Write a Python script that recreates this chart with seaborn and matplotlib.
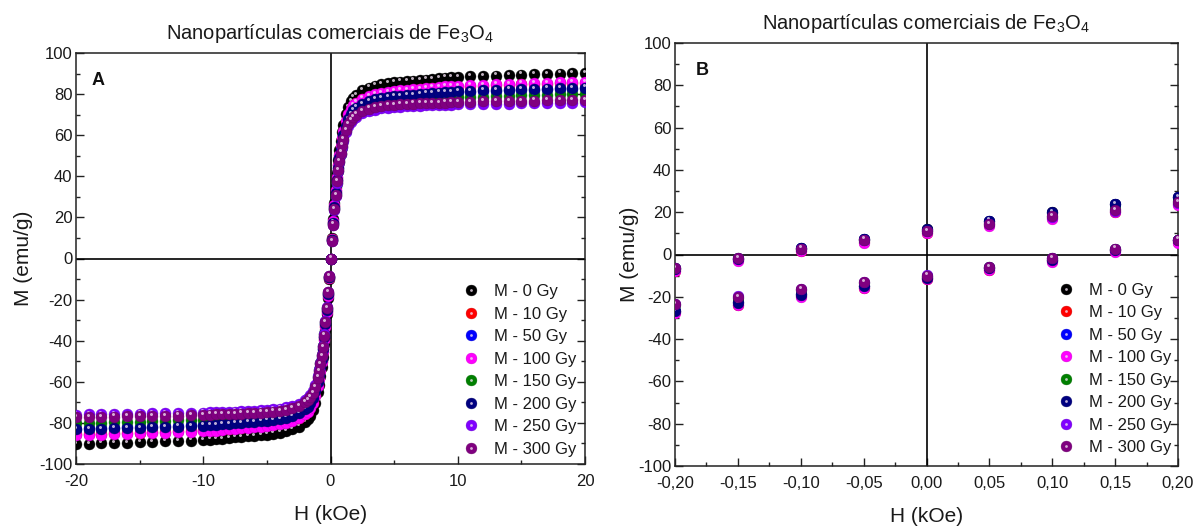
import matplotlib
matplotlib.use('Agg')
import matplotlib.pyplot as plt
import matplotlib.colors as mcolors
import seaborn as sns
from matplotlib.lines import Line2D
from matplotlib.legend_handler import HandlerTuple
from matplotlib.ticker import MultipleLocator, FuncFormatter
from matplotlib.transforms import ScaledTranslation

sns.set_style('ticks')
plt.rcParams['font.family'] = ['Liberation Sans', 'DejaVu Sans']
plt.rcParams['axes.unicode_minus'] = False
plt.rcParams['mathtext.fontset'] = 'custom'
plt.rcParams['mathtext.rm'] = 'Liberation Sans'
plt.rcParams['mathtext.it'] = 'Liberation Sans:italic'
plt.rcParams['mathtext.bf'] = 'Liberation Sans:bold'

labels = ['M - 0 Gy', 'M - 10 Gy', 'M - 50 Gy', 'M - 100 Gy',
          'M - 150 Gy', 'M - 200 Gy', 'M - 250 Gy', 'M - 300 Gy']
colors = ['#000000', '#ff0000', '#0000ff', '#ff00ff',
          '#008000', '#000080', '#8000ff', '#800080']

# panel A: full loop, H in kOe
h_a = [-20, -19, -18, -17, -16, -15, -14, -13, -12, -11,
       -10, -9.5, -9, -8.5, -8, -7.5, -7, -6.5, -6, -5.5,
       -5, -4.5, -4, -3.5, -3, -2.5, -2, -1.8, -1.6, -1.4, -1.2,
       -1.0, -0.9, -0.8, -0.7, -0.6, -0.5, -0.4, -0.3, -0.2, -0.1,
       0,
       0.1, 0.2, 0.3, 0.4, 0.5, 0.6, 0.7, 0.8, 0.9, 1.0,
       1.2, 1.4, 1.6, 1.8, 2, 2.5, 3, 3.5, 4, 4.5, 5,
       5.5, 6, 6.5, 7, 7.5, 8, 8.5, 9, 9.5, 10,
       11, 12, 13, 14, 15, 16, 17, 18, 19, 20]

m_0gy = [-90.4, -90.2, -90.0, -89.9, -89.7, -89.5, -89.3, -89.0, -88.9, -88.6,
         -88.3, -88.1, -88.0, -87.7, -87.4, -87.1, -86.9, -86.6, -86.3, -86.1,
         -85.7, -85.2, -84.7, -84.1, -83.2, -81.8, -79.7, -78.3, -76.4, -73.7, -70.1,
         -65.1, -61.5, -57.4, -52.9, -47.9, -41.6, -34.8, -27.1, -19.0, -9.9,
         0.0,
         9.9, 19.0, 27.1, 34.8, 41.6, 47.9, 52.9, 57.4, 61.5, 65.1,
         70.1, 73.7, 76.4, 78.3, 79.7, 81.8, 83.2, 84.1, 84.7, 85.2, 85.7,
         86.1, 86.3, 86.6, 86.9, 87.1, 87.4, 87.7, 88.0, 88.1, 88.3,
         88.6, 88.9, 89.0, 89.3, 89.5, 89.7, 89.9, 90.0, 90.2, 90.4]
m_10gy = [-85.6, -85.4, -85.3, -85.1, -84.9, -84.7, -84.6, -84.3, -84.1, -83.9,
          -83.6, -83.5, -83.3, -83.0, -82.8, -82.5, -82.3, -82.0, -81.7, -81.5,
          -81.1, -80.7, -80.2, -79.6, -78.8, -77.5, -75.5, -74.1, -72.3, -69.8, -66.3,
          -61.6, -58.2, -54.4, -50.1, -45.4, -39.4, -33.0, -25.7, -18.0, -9.4,
          0.0,
          9.4, 18.0, 25.7, 33.0, 39.4, 45.4, 50.1, 54.4, 58.2, 61.6,
          66.3, 69.8, 72.3, 74.1, 75.5, 77.5, 78.8, 79.6, 80.2, 80.7, 81.1,
          81.5, 81.7, 82.0, 82.3, 82.5, 82.8, 83.0, 83.3, 83.5, 83.6,
          83.9, 84.1, 84.3, 84.6, 84.7, 84.9, 85.1, 85.3, 85.4, 85.6]
m_50gy = [-82.8, -82.6, -82.5, -82.3, -82.1, -82.0, -81.8, -81.6, -81.4, -81.1,
          -80.9, -80.7, -80.6, -80.3, -80.1, -79.8, -79.6, -79.3, -79.1, -78.8,
          -78.5, -78.1, -77.6, -77.0, -76.2, -74.9, -73.0, -71.7, -70.0, -67.5, -64.2,
          -59.6, -56.3, -52.6, -48.4, -43.9, -38.1, -31.9, -24.8, -17.4, -9.1,
          0.0,
          9.1, 17.4, 24.8, 31.9, 38.1, 43.9, 48.4, 52.6, 56.3, 59.6,
          64.2, 67.5, 70.0, 71.7, 73.0, 74.9, 76.2, 77.0, 77.6, 78.1, 78.5,
          78.8, 79.1, 79.3, 79.6, 79.8, 80.1, 80.3, 80.6, 80.7, 80.9,
          81.1, 81.4, 81.6, 81.8, 82.0, 82.1, 82.3, 82.5, 82.6, 82.8]
m_100gy = [-86.0, -85.8, -85.7, -85.5, -85.3, -85.1, -85.0, -84.7, -84.5, -84.3,
           -84.0, -83.9, -83.7, -83.4, -83.2, -82.9, -82.6, -82.4, -82.1, -81.9,
           -81.5, -81.1, -80.6, -80.0, -79.1, -77.8, -75.9, -74.5, -72.7, -70.1, -66.7,
           -61.9, -58.5, -54.6, -50.3, -45.6, -39.6, -33.1, -25.8, -18.1, -9.5,
           0.0,
           9.5, 18.1, 25.8, 33.1, 39.6, 45.6, 50.3, 54.6, 58.5, 61.9,
           66.7, 70.1, 72.7, 74.5, 75.9, 77.8, 79.1, 80.0, 80.6, 81.1, 81.5,
           81.9, 82.1, 82.4, 82.6, 82.9, 83.2, 83.4, 83.7, 83.9, 84.0,
           84.3, 84.5, 84.7, 85.0, 85.1, 85.3, 85.5, 85.7, 85.8, 86.0]
m_150gy = [-80.2, -80.0, -79.9, -79.7, -79.6, -79.4, -79.2, -79.0, -78.8, -78.6,
           -78.4, -78.2, -78.0, -77.8, -77.6, -77.3, -77.1, -76.8, -76.6, -76.4,
           -76.0, -75.6, -75.1, -74.6, -73.8, -72.6, -70.7, -69.5, -67.8, -65.4, -62.2,
           -57.7, -54.5, -50.9, -46.9, -42.5, -36.9, -30.9, -24.1, -16.8, -8.8,
           0.0,
           8.8, 16.8, 24.1, 30.9, 36.9, 42.5, 46.9, 50.9, 54.5, 57.7,
           62.2, 65.4, 67.8, 69.5, 70.7, 72.6, 73.8, 74.6, 75.1, 75.6, 76.0,
           76.4, 76.6, 76.8, 77.1, 77.3, 77.6, 77.8, 78.0, 78.2, 78.4,
           78.6, 78.8, 79.0, 79.2, 79.4, 79.6, 79.7, 79.9, 80.0, 80.2]
m_200gy = [-83.2, -83.0, -82.9, -82.7, -82.5, -82.4, -82.2, -82.0, -81.8, -81.5,
           -81.3, -81.1, -81.0, -80.7, -80.5, -80.2, -80.0, -79.7, -79.5, -79.2,
           -78.9, -78.5, -78.0, -77.4, -76.5, -75.3, -73.4, -72.1, -70.3, -67.8, -64.5,
           -59.9, -56.6, -52.8, -48.7, -44.1, -38.3, -32.0, -25.0, -17.5, -9.2,
           0.0,
           9.2, 17.5, 25.0, 32.0, 38.3, 44.1, 48.7, 52.8, 56.6, 59.9,
           64.5, 67.8, 70.3, 72.1, 73.4, 75.3, 76.5, 77.4, 78.0, 78.5, 78.9,
           79.2, 79.5, 79.7, 80.0, 80.2, 80.5, 80.7, 81.0, 81.1, 81.3,
           81.5, 81.8, 82.0, 82.2, 82.4, 82.5, 82.7, 82.9, 83.0, 83.2]
m_250gy = [-76.0, -75.9, -75.8, -75.7, -75.6, -75.5, -75.4, -75.4, -75.3, -75.1,
           -75.0, -74.9, -74.8, -74.7, -74.6, -74.5, -74.4, -74.3, -74.1, -73.9,
           -73.7, -73.4, -73.0, -72.5, -71.8, -70.7, -69.0, -68.0, -66.5, -64.5, -61.6,
           -57.1, -54.2, -50.7, -46.8, -42.4, -36.9, -30.5, -23.6, -16.3, -8.4,
           0.0,
           8.4, 16.3, 23.6, 30.5, 36.9, 42.4, 46.8, 50.7, 54.2, 57.1,
           61.6, 64.5, 66.5, 68.0, 69.0, 70.7, 71.8, 72.5, 73.0, 73.4, 73.7,
           73.9, 74.1, 74.3, 74.4, 74.5, 74.6, 74.7, 74.8, 74.9, 75.0,
           75.1, 75.3, 75.4, 75.4, 75.5, 75.6, 75.7, 75.8, 75.9, 76.0]
m_300gy = [-77.2, -77.1, -77.0, -76.9, -76.8, -76.7, -76.6, -76.5, -76.4, -76.2,
           -76.1, -76.0, -75.9, -75.8, -75.7, -75.6, -75.5, -75.4, -75.2, -75.0,
           -74.8, -74.5, -74.1, -73.6, -72.9, -71.8, -70.0, -69.0, -67.5, -65.5, -62.5,
           -58.0, -55.0, -51.5, -47.5, -43.0, -37.5, -31.0, -24.0, -16.5, -8.5,
           0.0,
           8.5, 16.5, 24.0, 31.0, 37.5, 43.0, 47.5, 51.5, 55.0, 58.0,
           62.5, 65.5, 67.5, 69.0, 70.0, 71.8, 72.9, 73.6, 74.1, 74.5, 74.8,
           75.0, 75.2, 75.4, 75.5, 75.6, 75.7, 75.8, 75.9, 76.0, 76.1,
           76.2, 76.4, 76.5, 76.6, 76.7, 76.8, 76.9, 77.0, 77.1, 77.2]

# panel B: zoom of the loop near H = 0, both branches
h_b = [-0.20, -0.15, -0.10, -0.05, 0.00, 0.05, 0.10, 0.15, 0.20]
up_0gy = [-6.8, -2.2, 3.0, 7.5, 12.0, 16.0, 20.0, 24.0, 27.1]
lo_0gy = [-26.6, -22.6, -18.9, -14.9, -11.0, -6.5, -2.5, 2.2, 7.0]
up_10gy = [-7.8, -2.8, 1.8, 5.8, 10.2, 13.8, 17.2, 20.3, 23.8]
lo_10gy = [-27.3, -23.8, -19.8, -15.8, -11.6, -7.3, -3.3, 1.5, 5.8]
up_50gy = [-6.6, -2.0, 3.0, 7.4, 11.8, 15.8, 19.8, 23.8, 27.0]
lo_50gy = [-26.6, -22.6, -18.8, -14.8, -10.8, -6.4, -2.4, 2.3, 7.0]
up_100gy = [-8.0, -3.0, 1.6, 5.5, 10.0, 13.5, 17.0, 20.0, 23.5]
lo_100gy = [-27.5, -24.0, -20.0, -16.0, -11.8, -7.5, -3.5, 1.3, 5.5]
up_150gy = [-6.4, -1.8, 2.8, 7.0, 11.2, 14.8, 18.4, 21.6, 25.2]
lo_150gy = [-24.0, -20.4, -16.9, -13.3, -10.2, -6.0, -1.8, 2.6, 7.0]
up_200gy = [-6.8, -2.2, 3.0, 7.5, 12.0, 16.0, 20.0, 24.0, 27.2]
lo_200gy = [-26.8, -22.8, -19.0, -15.0, -11.0, -6.5, -2.5, 2.2, 7.0]
up_250gy = [-6.2, -1.6, 2.8, 7.0, 10.9, 14.4, 17.8, 20.8, 24.4]
lo_250gy = [-23.4, -19.8, -16.4, -12.9, -9.9, -5.7, -1.6, 2.8, 6.9]
up_300gy = [-6.3, -1.6, 2.8, 7.0, 11.0, 14.5, 18.0, 21.0, 24.7]
lo_300gy = [-23.6, -20.0, -16.5, -13.0, -10.0, -5.8, -1.6, 2.8, 7.0]

series_a = [m_0gy, m_10gy, m_50gy, m_100gy, m_150gy, m_200gy, m_250gy, m_300gy]
series_b = [(up_0gy, lo_0gy), (up_10gy, lo_10gy), (up_50gy, lo_50gy),
            (up_100gy, lo_100gy), (up_150gy, lo_150gy), (up_200gy, lo_200gy),
            (up_250gy, lo_250gy), (up_300gy, lo_300gy)]

title = r'Nanopartículas comerciais de Fe$_\mathregular{3}$O$_\mathregular{4}$'

W, H = 1203, 530
fig = plt.figure(figsize=(W / 100, H / 100), dpi=100)
ax_a = fig.add_axes([76 / W, 66 / H, 509 / W, 411 / H])
ax_b = fig.add_axes([675 / W, 64 / H, 503 / W, 423 / H])

HILITE = '#eedcee'


def shade(c, f):
    r, g, b = mcolors.to_rgb(c)
    return (r * f, g * f, b * f)


def balls(ax, x, y, color, size):
    # coloured ball with a small light highlight shifted up-left
    sns.scatterplot(x=x, y=y, ax=ax, color=color, s=size, edgecolor=shade(color, 0.8),
                    linewidth=0.3, legend=False, zorder=3)
    sns.scatterplot(x=x, y=y, ax=ax, color=HILITE, s=size * 0.075, alpha=0.8,
                    linewidth=0, legend=False, zorder=3)
    shift = ScaledTranslation(-1.0 / 100, 2.2 / 100, fig.dpi_scale_trans)
    ax.collections[-1].set_offset_transform(ax.transData + shift)


for m, c in zip(series_a, colors):
    balls(ax_a, h_a, m, c, 62)

for (up, lo), c in zip(series_b, colors):
    balls(ax_b, h_b, up, c, 60)
    balls(ax_b, h_b, lo, c, 60)


def style(ax, xlim, xmaj, xmin, tag, tag_xy, label_x, xlab_y):
    ax.set_xlim(*xlim)
    ax.set_ylim(-100, 100)
    ax.axhline(0, color='black', lw=1.2, zorder=1)
    ax.axvline(0, color='black', lw=1.2, zorder=1)
    ax.xaxis.set_major_locator(MultipleLocator(xmaj))
    ax.xaxis.set_minor_locator(MultipleLocator(xmin))
    ax.yaxis.set_major_locator(MultipleLocator(20))
    ax.yaxis.set_minor_locator(MultipleLocator(10))
    ax.tick_params(which='both', direction='in', top=False, right=True,
                   width=1.0, color='#222222', labelcolor='#1a1a1a', labelsize=12)
    ax.tick_params(which='major', length=6)
    ax.tick_params(which='minor', length=3.2)
    ax.tick_params(axis='x', which='major', pad=7.5)
    ax.tick_params(axis='y', which='major', pad=2.5)
    for sp in ax.spines.values():
        sp.set_linewidth(1.1)
        sp.set_color('#222222')
    ax.set_title(title, fontsize=14.5, pad=10, color='#1a1a1a')
    ax.set_xlabel('H (kOe)', fontsize=15, color='#1a1a1a')
    ax.set_ylabel('M (emu/g)', fontsize=15, color='#1a1a1a')
    ax.xaxis.set_label_coords(0.5, xlab_y)
    ax.yaxis.set_label_coords(label_x, 0.5)
    ax.text(tag_xy[0], tag_xy[1], tag, transform=ax.transAxes, fontsize=13,
            fontweight='bold', ha='center', va='center', color='#111111')


style(ax_a, (-20, 20), 10, 5, 'A', (0.044, 0.934), -0.085, -0.099)
style(ax_b, (-0.2, 0.2), 0.05, 0.025, 'B', (0.055, 0.936), -0.072, -0.096)


def comma(v, pos):
    v = round(v, 4)
    if v == 0:
        v = 0.0
    return f'{v:.2f}'.replace('.', ',')


ax_b.xaxis.set_major_formatter(FuncFormatter(comma))

handles = [(Line2D([], [], ls='', marker='o', ms=7.8, mfc=c, mec=shade(c, 0.8), mew=0.3),
            Line2D([], [], ls='', marker='o', ms=2.0, mfc=HILITE, mec='none', alpha=0.8))
           for c in colors]
for ax, anchor in ((ax_a, (0.760, 0.2275)), (ax_b, (0.761, 0.2293))):
    ax.legend(handles, labels, handler_map={tuple: HandlerTuple(ndivide=1, pad=0)},
              loc='center left', bbox_to_anchor=anchor, frameon=False, fontsize=12,
              handlelength=1.0, handletextpad=0.88, labelspacing=0.45,
              borderpad=0, borderaxespad=0, labelcolor='#1a1a1a')

fig.savefig('out.png', dpi=100)
